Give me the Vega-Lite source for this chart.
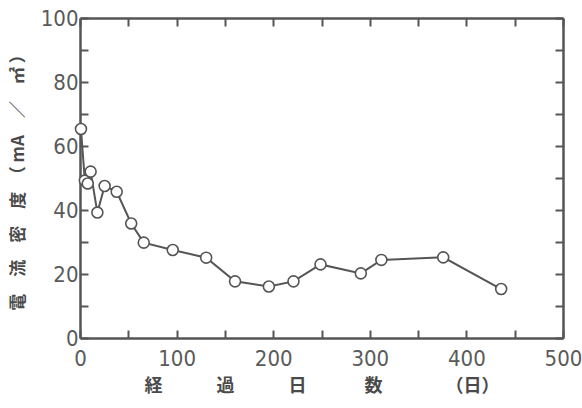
{
  "$schema": "https://vega.github.io/schema/vega-lite/v6.json",
  "autosize": "none",
  "width": 483,
  "height": 320,
  "padding": {"left": 80, "top": 18, "right": 19, "bottom": 70},
  "background": "white",
  "config": {
    "view": {"stroke": null},
    "axis": {
      "domainColor": "#555",
      "domainWidth": 2.5,
      "tickColor": "#555",
      "tickWidth": 2,
      "tickSize": -8,
      "grid": false,
      "labelFont": "DejaVu Sans Condensed",
      "labelFontSize": 22,
      "labelFontWeight": "normal",
      "labelColor": "#5a5a5a",
      "titleFont": "Noto Sans CJK JP",
      "titleColor": "#4a4a4a",
      "titleFontWeight": "bold"
    }
  },
  "data": {
    "values": [
      {"days": 1, "current": 65.3},
      {"days": 5, "current": 49.2},
      {"days": 8, "current": 48.3},
      {"days": 11, "current": 52.0},
      {"days": 18, "current": 39.2},
      {"days": 25.5, "current": 47.5},
      {"days": 38, "current": 45.7},
      {"days": 53, "current": 35.8},
      {"days": 66, "current": 29.8},
      {"days": 96, "current": 27.5},
      {"days": 130.6, "current": 25.1},
      {"days": 160.5, "current": 17.7},
      {"days": 195.5, "current": 16.1},
      {"days": 221, "current": 17.7},
      {"days": 249, "current": 23.0},
      {"days": 290.7, "current": 20.2},
      {"days": 312, "current": 24.4},
      {"days": 376, "current": 25.2},
      {"days": 436, "current": 15.3}
    ]
  },
  "layer": [
    {
      "mark": {"type": "line", "color": "#555", "strokeWidth": 2},
      "encoding": {
        "x": {
          "field": "days", "type": "quantitative",
          "scale": {"domain": [0, 500], "nice": false},
          "axis": {
            "orient": "bottom",
            "values": [0, 50, 100, 150, 200, 250, 300, 350, 400, 450, 500],
            "labelExpr": "datum.value % 100 == 0 ? datum.label : ''",
            "labelPadding": 18,
            "labelFlush": false,
            "title": "経　　　過　　　日　　　 数　　　　（日）",
            "titleFontSize": 18,
            "titlePadding": 8
          }
        },
        "y": {
          "field": "current", "type": "quantitative",
          "scale": {"domain": [0, 100], "nice": false},
          "axis": {
            "orient": "left",
            "values": [0, 10, 20, 30, 40, 50, 60, 70, 80, 90, 100],
            "labelExpr": "datum.value % 20 == 0 ? datum.label : ''",
            "labelPadding": 10,
            "labelFlush": false,
            "title": "電　流　密　度　（ mA　／　㎡ ）",
            "titleFontSize": 17,
            "titlePadding": 13
          }
        }
      }
    },
    {
      "mark": {"type": "point", "filled": true, "fill": "white", "stroke": "#555", "strokeWidth": 1.6, "size": 120, "opacity": 1},
      "encoding": {
        "x": {
          "field": "days", "type": "quantitative",
          "axis": {
            "orient": "top",
            "values": [0, 50, 100, 150, 200, 250, 300, 350, 400, 450, 500],
            "labels": false,
            "title": null
          }
        },
        "y": {
          "field": "current", "type": "quantitative",
          "axis": {
            "orient": "right",
            "values": [0, 10, 20, 30, 40, 50, 60, 70, 80, 90, 100],
            "labels": false,
            "title": null
          }
        }
      }
    }
  ],
  "resolve": {"axis": {"x": "independent", "y": "independent"}}
}
